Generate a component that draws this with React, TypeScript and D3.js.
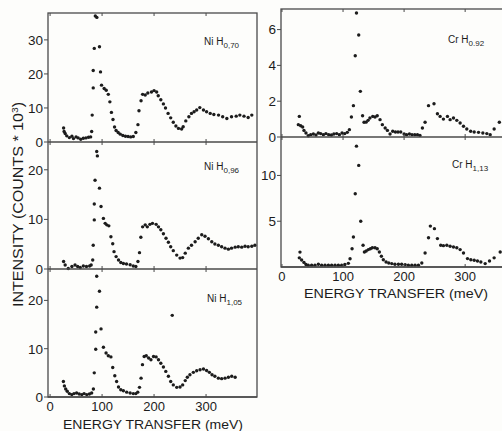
import React from 'react';
import * as d3 from 'd3';

// energy transfer (meV), intensity (counts * 10^3)
const niH070: [number, number][] = [
  [26, 4.1], [27, 3.1], [29, 2.5], [32, 1.8], [37, 1.3], [42, 1.7], [45, 1.0], [50, 1.5], [54, 1.2],
  [59, 0.8], [64, 1.1], [69, 1.2], [74, 1.4], [78, 1.5], [80, 3.1], [81, 7.9], [83, 15.9], [83, 21],
  [85, 27.5], [87, 37], [90, 36.6], [95, 28], [97, 20.6], [99, 16.7], [104, 15.7], [108, 15.2],
  [112, 14], [115, 11.8], [118, 8.7], [121, 6.6], [124, 4.4], [127, 3.4], [131, 2.8], [135, 2.3],
  [140, 1.9], [145, 1.7], [150, 1.6], [155, 1.5], [160, 1.6], [165, 2.8], [169, 5.1], [171, 9.2],
  [175, 12.1], [178, 14], [183, 13.8], [188, 14.4], [195, 14.7], [200, 15.1], [205, 14.7],
  [208, 13.6], [213, 12.4], [218, 11.2], [222, 10], [227, 8.4], [232, 7.1], [237, 5.8], [242, 4.7],
  [247, 4.0], [253, 3.8], [256, 4.5], [261, 6.2], [267, 7.4], [272, 8.4], [277, 8.9], [282, 9.4],
  [288, 10.1], [295, 9.4], [301, 8.9], [308, 8.4], [315, 8.1], [324, 7.9], [332, 7.4], [340, 6.9],
  [349, 7.4], [358, 7.6], [365, 7.9], [373, 7.6], [381, 7.2], [388, 7.9],
];

const niH096: [number, number][] = [
  [26, 1.5], [29, 0.8], [35, 0.1], [42, 0.5], [48, 0.8], [53, 0.5], [58, 0.3], [64, 0.6], [70, 0.5],
  [76, 0.6], [79, 0.8], [82, 1.8], [83, 4.8], [85, 9.9], [85, 13.1], [86.5, 17.9], [89.7, 23.7],
  [91, 22.8], [95, 16.3], [98, 12.6], [102.6, 10.2], [106, 9.2], [109, 8.9], [113, 8.7], [117, 6.5],
  [120.5, 5.1], [123, 3.5], [127, 2.5], [131.6, 1.8], [136, 1.3], [141, 1.1], [147, 1.0], [154, 0.85],
  [160, 0.6], [165, 0.5], [169, 1.5], [172, 3.3], [174.6, 6.4], [178, 8.5], [183, 8.9], [187, 8.5],
  [192, 9.0], [197, 9.2], [204, 9.0], [208.5, 8.5], [213, 7.9], [218, 7.1], [223, 6.2], [227.6, 5.4],
  [232, 4.5], [237, 3.7], [243.6, 2.8], [250, 2.2], [255, 2.3], [260, 3.2], [266, 4.2], [272, 4.8],
  [279, 5.5], [285, 6.2], [291.7, 6.9], [298, 6.6], [304.5, 6.1], [311, 5.5], [317, 5.05],
  [323.7, 4.8], [330, 4.5], [336.5, 4.2], [343, 4.0], [349, 4.2], [356, 4.4], [362, 4.5],
  [368.6, 4.4], [375, 4.6], [381, 4.5], [388, 4.6], [394, 4.8],
];

const niH105: [number, number][] = [
  [25.6, 3.2], [27.5, 2.3], [30, 1.65], [33, 1.2], [37, 0.7], [41.7, 0.5], [46, 0.7], [51, 0.83],
  [56, 0.62], [61, 0.5], [65.4, 0.7], [70.5, 0.5], [75.6, 0.62], [80, 0.83], [83.3, 1.65], [85, 5.0],
  [87.8, 9.9], [87.8, 13.45], [89.7, 18.6], [89.7, 25], [95, 21.9], [98, 14.1], [102.6, 10.3],
  [107.7, 9.1], [112, 8.55], [117, 8.3], [120.5, 6.1], [124.5, 4.4], [128, 3.2], [131.6, 2.07],
  [136, 1.5], [141, 1.3], [147.4, 1.0], [154, 0.83], [160, 0.7], [165, 0.7], [168.6, 1.0], [172, 2.0],
  [175, 3.9], [177.7, 6.7], [181, 8.4], [185, 8.55], [189.5, 8.07], [194, 7.7], [199, 8.4], [204, 8.3],
  [208.5, 7.7], [213, 7.0], [218, 6.2], [222.6, 5.3], [227.6, 4.3], [232, 3.2], [235, 16.9],
  [237, 2.5], [243.6, 2.0], [250, 2.07], [255, 2.5], [260, 3.4], [264, 4.1], [269, 4.6],
  [275.6, 5.1], [282, 5.45], [288.5, 5.65], [295, 5.8], [301, 5.5], [306.4, 5.1], [311.5, 4.6],
  [317, 4.3], [323.7, 3.9], [330, 3.8], [336.5, 3.9], [343, 4.1], [349.4, 4.3], [356, 4.1],
];

const crH092: [number, number][] = [
  [28.4, 1.15], [26.8, 0.69], [30.6, 0.63], [33.9, 0.56], [36, 0.37], [39.3, 0.22], [43, 0.07],
  [47, 0.13], [51.4, 0.17], [55.7, 0.11], [59.6, 0.22], [63.4, 0.19], [67.8, 0.13], [72, 0.19],
  [76.5, 0.13], [80.9, 0.11], [85, 0.17], [89.6, 0.19], [94, 0.13], [98.4, 0.22], [102.8, 0.19],
  [107, 0.26], [110.4, 0.41], [113.7, 1.12], [117, 1.75], [120, 4.54], [122, 6.93], [125.7, 5.7],
  [128.4, 2.55], [132, 1.19], [134.4, 0.82], [137.7, 0.83], [141, 0.93], [144, 1.06], [148.6, 1.15],
  [152.4, 1.12], [156, 1.19], [160.6, 0.97], [164.4, 0.69], [169, 0.5], [172.7, 0.37], [177, 0.17],
  [181.4, 0.32], [185.8, 0.28], [190, 0.28], [194.5, 0.28], [200, 0.17], [204, 0.13], [208.7, 0.17],
  [213, 0.13], [217.5, 0.13], [221.9, 0.13], [226, 0.09], [230, 0.5], [234.4, 0.82], [240, 1.75],
  [249, 1.86], [254.6, 1.3], [259, 1.15], [264.4, 1.0], [271, 1.15], [275.4, 0.97], [280.9, 1.06],
  [286.3, 0.93], [291.8, 0.78], [297.3, 0.6], [302.7, 0.45], [309, 0.32], [314.8, 0.28], [321.9, 0.26],
  [329, 0.22], [335.5, 0.19], [341, 0.13], [347.5, 0.45], [356, 0.82],
];

const crH113: [number, number][] = [
  [29.5, 1.63], [28.4, 1.0], [32.2, 0.76], [36, 0.5], [39.3, 0.28], [43, 0.2], [48.6, 0.2], [54, 0.2],
  [59.6, 0.3], [65, 0.2], [70.5, 0.2], [76, 0.2], [81.4, 0.2], [86.9, 0.2], [92.3, 0.2], [97.8, 0.2],
  [103, 0.28], [108.7, 0.4], [111.5, 0.9], [114.8, 2.0], [117, 3.27], [120, 8.0], [122, 13.2],
  [125.7, 11.1], [129, 5.0], [132.8, 2.37], [135, 1.64], [138, 1.75], [141.5, 1.9], [144.8, 2.0],
  [148, 2.1], [152.4, 2.1], [156, 2.0], [159.5, 1.64], [162.8, 1.17], [166, 0.8], [170.5, 0.55],
  [174.9, 0.44], [179.8, 0.37], [185, 0.3], [190.7, 0.3], [196, 0.3], [201.7, 0.26], [207, 0.19],
  [212.6, 0.19], [218, 0.19], [223.5, 0.19], [229, 0.44], [234.4, 1.53], [240, 3.2], [243, 4.47],
  [249.7, 4.19], [254.6, 3.1], [260, 2.37], [264.4, 2.33], [270, 2.37], [275.4, 2.26], [280.9, 2.18],
  [286.3, 2.1], [291.8, 1.9], [297.3, 1.53], [303.8, 0.92], [309.3, 0.8], [314.8, 0.73], [320.2, 0.66],
  [325.7, 0.55], [332.8, 0.37], [339.9, 0.66], [347.5, 1.0], [357.4, 1.64],
];

const xTicks = [0, 100, 200, 300];

const font = "'Liberation Sans', Arial, sans-serif";
const ink = '#1c1c1c';
const frameColor = '#4a4a4a';

type Panel = {
  data: [number, number][];
  name: string;
  sub: string;
  top: number;
  bottom: number;
  yMax: number;
  yTicks: number[];
  labelX: number;
  labelY: number;
};

const leftPanels: Panel[] = [
  { data: niH070, name: 'Ni H', sub: '0,70', top: 13, bottom: 142, yMax: 37.9, yTicks: [0, 10, 20, 30], labelX: 204, labelY: 45 },
  { data: niH096, name: 'Ni H', sub: '0,96', top: 142, bottom: 269, yMax: 25.6, yTicks: [0, 10, 20], labelX: 204, labelY: 170 },
  { data: niH105, name: 'Ni H', sub: '1,05', top: 269, bottom: 397, yMax: 26.5, yTicks: [0, 10, 20], labelX: 207, labelY: 302 },
];

const rightPanels: Panel[] = [
  { data: crH092, name: 'Cr H', sub: '0.92', top: 9, bottom: 137, yMax: 7.15, yTicks: [0, 2, 4, 6], labelX: 448, labelY: 43 },
  { data: crH113, name: 'Cr H', sub: '1,13', top: 137, bottom: 267, yMax: 14.2, yTicks: [5, 10], labelX: 452, labelY: 168 },
];

function Column({ panels, x, left, right }: { panels: Panel[]; x: d3.ScaleLinear<number, number>; left: number; right: number }) {
  const bottom = panels[panels.length - 1].bottom;
  const top = panels[0].top;
  return (
    <g>
      {panels.map((p, i) => {
        const y = d3.scaleLinear().domain([0, p.yMax]).range([p.bottom, p.top]);
        return (
          <g key={i}>
            {p.data.map(([e, v], j) => (
              <circle key={j} cx={x(e)} cy={y(v)} r={1.7} fill={ink} />
            ))}
            {p.yTicks.map(t => (
              <g key={t} transform={`translate(${left},${y(t)})`}>
                <line x1={-4} x2={0} stroke={frameColor} strokeWidth={1} />
                <text x={-5} dy="0.36em" textAnchor="end" fontSize={13.5} fontFamily={font} fill={ink}>{t}</text>
              </g>
            ))}
            {xTicks.map(t => (
              <g key={t}>
                <line x1={x(t)} x2={x(t)} y1={p.top} y2={p.top + 3} stroke={frameColor} strokeWidth={1} />
                <line x1={x(t)} x2={x(t)} y1={p.bottom} y2={p.bottom - 3} stroke={frameColor} strokeWidth={1} />
              </g>
            ))}
            <line x1={left} x2={right} y1={p.bottom} y2={p.bottom} stroke={frameColor} strokeWidth={1.3} />
            <text x={p.labelX} y={p.labelY} fontSize={10} fontFamily={font} fill={ink}>
              {p.name}
              <tspan fontSize={8} dy={3}>{p.sub}</tspan>
            </text>
          </g>
        );
      })}
      <rect x={left} y={top} width={right - left} height={bottom - top} fill="none" stroke={frameColor} strokeWidth={1.3} />
      {xTicks.map(t => (
        <text key={t} x={x(t)} y={bottom + 9} dy="0.36em" textAnchor="middle" fontSize={13} fontFamily={font} fill={ink}>{t}</text>
      ))}
    </g>
  );
}

export default function App() {
  const width = 502;
  const height = 431;

  const xLeft = d3.scaleLinear().domain([-4, 398]).range([48, 257]);
  const xRight = d3.scaleLinear().domain([-1.6, 362]).range([281, 503]);

  return (
    <svg width={width} height={height} style={{ display: 'block', position: 'absolute', left: 0, top: 0, background: '#fdfdfb' }}>
      <Column panels={leftPanels} x={xLeft} left={48} right={257} />
      <Column panels={rightPanels} x={xRight} left={281} right={503} />
      <text x={63} y={429} fontSize={13.5} fontFamily={font} fill={ink} textLength={180} lengthAdjust="spacingAndGlyphs">ENERGY TRANSFER (meV)</text>
      <text x={304} y={298} fontSize={13.5} fontFamily={font} fill={ink} textLength={184} lengthAdjust="spacingAndGlyphs">ENERGY TRANSFER (meV)</text>
      <text transform="translate(23,307) rotate(-90)" fontSize={14} fontFamily={font} fill={ink} textLength={205} lengthAdjust="spacingAndGlyphs">
        INTENSITY  (COUNTS * 10<tspan fontSize={9} dy={-5}>3</tspan><tspan dy={5}>)</tspan>
      </text>
    </svg>
  );
}
